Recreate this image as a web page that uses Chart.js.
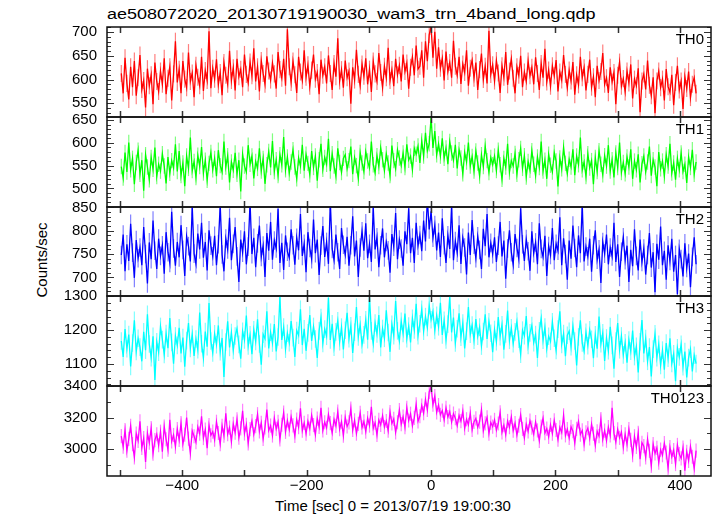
<!DOCTYPE html>
<html>
<head>
<meta charset="utf-8">
<script src="https://cdn.jsdelivr.net/npm/chart.js@4.4.1/dist/chart.umd.min.js"></script>
<style>
body { margin: 0; background: #fff; width: 717px; height: 516px; overflow: hidden; position: relative; font-family: "Liberation Sans", Arial, sans-serif; }
canvas { position: absolute; left: 0; }
.txt { position: absolute; font-size: 15px; line-height: 18px; color: #000; white-space: nowrap; }
#title { font-size: 18px; transform: scale(1, 0.86); transform-origin: left top; }
</style>
</head>
<body>
<div class="txt" id="title" style="left:107px;top:6px">ae508072020_20130719190030_wam3_trn_4band_long.qdp</div>
<div class="txt" style="left:275px;top:497px">Time [sec] 0 = 2013/07/19 19:00:30</div>
<div class="txt" style="left:42px;top:260px;transform:translate(-50%,-50%) rotate(-90deg)">Counts/sec</div>
<script>
// light curves, 3 s bins starting at t = -498 s (10 bins per row)
const t0 = -498;
const binSec = 3;

const th0 = [
  613, 571, 646, 592, 558, 627, 584, 639, 566, 604,
  652, 579, 598, 541, 623, 587, 610, 548, 636, 596,
  575, 618, 590, 645, 569, 603, 627, 556, 612, 681,
  594, 622, 571, 639, 601, 583, 657, 596, 614, 563,
  630, 605, 587, 648, 576, 619, 598, 702, 582, 624,
  601, 643, 589, 615, 567, 636, 609, 590, 661, 598,
  625, 577, 644, 606, 622, 584, 653, 611, 593, 637,
  608, 666, 596, 627, 575, 640, 613, 590, 649, 618,
  599, 635, 612, 581, 658, 621, 603, 644, 587, 706,
  627, 594, 639, 610, 572, 648, 616, 598, 662, 605,
  631, 586, 620, 653, 601, 615, 569, 642, 609, 627,
  592, 651, 613, 578, 634, 606, 687, 597, 621, 583,
  640, 604, 618, 549, 626, 599, 663, 611, 587, 633,
  607, 645, 590, 622, 574, 639, 612, 596, 656, 615,
  583, 628, 604, 667, 598, 621, 586, 644, 610, 630,
  596, 653, 617, 635, 581, 626, 648, 609, 672, 622,
  628, 662, 604, 681, 639, 695, 712, 646, 701, 623,
  668, 624, 645, 598, 659, 617, 636, 604, 682, 628,
  609, 648, 591, 633, 615, 662, 587, 624, 641, 603,
  636, 578, 621, 655, 600, 628, 592, 703, 611, 631,
  597, 640, 614, 572, 629, 605, 658, 589, 618, 644,
  603, 571, 627, 609, 650, 584, 616, 596, 639, 608,
  626, 590, 647, 613, 578, 634, 604, 665, 595, 620,
  586, 629, 608, 641, 575, 616, 599, 652, 611, 583,
  620, 597, 637, 568, 610, 589, 648, 604, 625, 577,
  611, 642, 584, 606, 563, 629, 598, 617, 656, 590,
  604, 572, 626, 595, 615, 548, 609, 637, 586, 602,
  574, 618, 593, 632, 560, 601, 587, 624, 531, 597,
  612, 579, 640, 588, 566, 605, 529, 597, 618, 583,
  601, 556, 622, 585, 573, 610, 546, 594, 629, 578,
  597, 538, 606, 581, 617, 562, 590, 604, 571
];
const th1 = [
  548, 523, 579, 536, 601, 541, 566, 509, 557, 584,
  531, 562, 495, 574, 547, 519, 568, 542, 590, 526,
  553, 538, 576, 549, 511, 569, 533, 561, 545, 597,
  537, 582, 528, 556, 505, 571, 544, 612, 539, 559,
  524, 573, 548, 591, 534, 562, 518, 555, 579, 541,
  566, 527, 584, 550, 536, 603, 547, 572, 513, 558,
  540, 578, 531, 562, 493, 575, 549, 536, 595, 553,
  571, 522, 559, 544, 588, 538, 566, 510, 552, 581,
  546, 604, 537, 563, 528, 574, 552, 613, 541, 569,
  533, 558, 585, 547, 521, 567, 549, 596, 539, 575,
  555, 530, 582, 546, 571, 517, 563, 598, 542, 568,
  553, 609, 538, 576, 549, 527, 588, 557, 535, 566,
  574, 543, 561, 592, 531, 568, 550, 522, 579, 556,
  537, 581, 560, 545, 603, 552, 534, 572, 548, 589,
  563, 539, 576, 556, 528, 594, 561, 543, 585, 567,
  550, 578, 546, 597, 562, 571, 541, 588, 575, 593,
  556, 604, 571, 622, 583, 598, 657, 589, 626, 574,
  598, 571, 610, 566, 589, 553, 603, 578, 562, 596,
  544, 585, 567, 532, 579, 558, 601, 549, 570, 538,
  582, 556, 527, 574, 548, 593, 561, 535, 568, 552,
  571, 539, 584, 552, 520, 566, 547, 598, 536, 561,
  549, 577, 531, 563, 588, 544, 572, 525, 559, 540,
  583, 553, 528, 569, 546, 603, 538, 562, 521, 575,
  551, 536, 579, 560, 504, 567, 543, 590, 555, 532,
  564, 547, 586, 529, 571, 552, 612, 541, 558, 526,
  576, 545, 561, 509, 568, 537, 583, 553, 530, 572,
  549, 595, 538, 563, 524, 578, 546, 601, 535, 557,
  532, 569, 547, 586, 521, 560, 541, 575, 513, 554,
  571, 536, 558, 592, 528, 563, 547, 505, 580, 543,
  560, 527, 574, 549, 598, 534, 556, 519, 566, 541,
  578, 537, 553, 512, 569, 546, 585, 531, 558
];
const th2 = [
  748, 792, 713, 771, 735, 815, 753, 699, 780, 741,
  764, 726, 808, 750, 687, 775, 739, 822, 757, 718,
  783, 746, 769, 708, 797, 754, 731, 841, 762, 725,
  776, 743, 812, 759, 703, 788, 767, 734, 853, 751,
  729, 794, 760, 817, 742, 776, 715, 801, 768, 745,
  789, 726, 771, 856, 749, 713, 783, 760, 828, 737,
  772, 808, 745, 690, 781, 753, 799, 728, 766, 861,
  750, 785, 722, 773, 811, 744, 768, 701, 795, 757,
  819, 738, 779, 762, 847, 731, 774, 716, 790, 755,
  742, 803, 769, 727, 785, 758, 836, 746, 772, 711,
  797, 763, 739, 824, 752, 781, 705, 768, 810, 744,
  776, 729, 863, 761, 737, 792, 754, 718, 806, 770,
  748, 787, 725, 769, 831, 745, 779, 701, 764, 799,
  757, 816, 741, 772, 733, 851, 760, 786, 722, 769,
  805, 743, 776, 758, 710, 793, 766, 838, 739, 781,
  762, 725, 799, 771, 848, 752, 785, 731, 817, 768,
  791, 756, 822, 777, 869, 803, 842, 785, 812, 758,
  796, 744, 827, 769, 731, 790, 761, 855, 737, 778,
  753, 812, 729, 785, 764, 706, 796, 748, 823, 770,
  741, 788, 759, 718, 804, 767, 836, 743, 774, 750,
  786, 733, 768, 819, 745, 779, 697, 762, 801, 754,
  727, 793, 763, 740, 848, 771, 735, 782, 756, 714,
  799, 752, 775, 728, 816, 761, 744, 789, 703, 767,
  748, 806, 737, 772, 757, 829, 726, 784, 750, 695,
  779, 740, 811, 763, 722, 790, 752, 857, 734, 766,
  745, 783, 712, 769, 801, 738, 760, 688, 776, 751,
  792, 728, 764, 745, 817, 733, 771, 701, 755, 786,
  737, 768, 690, 759, 724, 803, 746, 715, 781, 733,
  762, 706, 748, 795, 721, 754, 668, 772, 738, 809,
  726, 757, 695, 769, 735, 783, 712, 748, 664, 761,
  739, 702, 773, 720, 751, 679, 744, 786, 728
];
const th3 = [
  1168, 1121, 1203, 1145, 1187, 1093, 1162, 1229, 1137, 1176,
  1150, 1108, 1195, 1141, 1247, 1159, 1119, 1182, 1053, 1166,
  1135, 1211, 1172, 1128, 1190, 1147, 1236, 1164, 1101, 1183,
  1155, 1207, 1131, 1178, 1092, 1169, 1221, 1146, 1188, 1124,
  1174, 1142, 1252, 1160, 1118, 1196, 1151, 1280, 1168, 1133,
  1189, 1157, 1214, 1136, 1177, 1062, 1165, 1226, 1149, 1193,
  1140, 1183, 1205, 1158, 1116, 1197, 1171, 1243, 1153, 1186,
  1129, 1201, 1167, 1232, 1159, 1098, 1188, 1175, 1256, 1146,
  1194, 1162, 1218, 1137, 1180, 1298, 1171, 1209, 1144, 1191,
  1163, 1227, 1178, 1121, 1199, 1185, 1262, 1156, 1204, 1139,
  1192, 1245, 1168, 1211, 1174, 1118, 1198, 1237, 1161, 1203,
  1182, 1296, 1171, 1219, 1150, 1195, 1228, 1166, 1209, 1143,
  1200, 1251, 1175, 1213, 1133, 1194, 1268, 1180, 1216, 1157,
  1186, 1231, 1172, 1297, 1198, 1160, 1221, 1189, 1245, 1149,
  1205, 1176, 1259, 1193, 1136, 1217, 1184, 1286, 1198, 1168,
  1226, 1190, 1249, 1175, 1212, 1164, 1235, 1201, 1278, 1184,
  1219, 1262, 1197, 1240, 1208, 1273, 1231, 1255, 1199, 1244,
  1210, 1281, 1186, 1229, 1171, 1218, 1299, 1193, 1237, 1162,
  1204, 1250, 1179, 1221, 1146, 1197, 1268, 1188, 1215, 1170,
  1233, 1182, 1209, 1153, 1196, 1247, 1174, 1225, 1191, 1135,
  1202, 1166, 1239, 1181, 1216, 1142, 1189, 1258, 1170, 1207,
  1160, 1195, 1226, 1173, 1129, 1200, 1184, 1242, 1155, 1192,
  1214, 1163, 1187, 1118, 1198, 1235, 1170, 1209, 1145, 1182,
  1167, 1225, 1176, 1140, 1203, 1256, 1158, 1190, 1123, 1185,
  1197, 1151, 1212, 1168, 1096, 1180, 1229, 1162, 1138, 1194,
  1154, 1201, 1173, 1117, 1186, 1145, 1240, 1160, 1192, 1109,
  1177, 1139, 1210, 1155, 1086, 1168, 1221, 1142, 1183, 1127,
  1163, 1104, 1171, 1138, 1199, 1122, 1152, 1075, 1166, 1230,
  1131, 1175, 1108, 1150, 1063, 1144, 1189, 1119, 1158, 1096,
  1141, 1083, 1162, 1117, 1176, 1102, 1130, 1049, 1148, 1121,
  1158, 1092, 1137, 1060, 1119, 1144, 1078, 1126, 1101
];
const th0123 = [
  3082, 3015, 3121, 2989, 3064, 3147, 3031, 2947, 3098, 3052,
  3176, 3008, 3069, 2918, 3102, 3041, 3133, 2971, 3057, 3094,
  3024, 3110, 2983, 3143, 3062, 2996, 3186, 3048, 3089, 3015,
  3127, 3058, 3164, 3032, 3091, 3199, 3066, 2974, 3115, 3081,
  3043, 3141, 3098, 3208, 3070, 3123, 3006, 3152, 3087, 3110,
  3059, 3173, 3102, 3031, 3148, 3085, 3227, 3094, 3136, 3048,
  3160, 3104, 3189, 3072, 3131, 3242, 3099, 3154, 3036, 3126,
  3178, 3093, 3145, 3221, 3112, 3167, 3065, 3138, 3250, 3117,
  3149, 3086, 3196, 3128, 3173, 3061, 3154, 3232, 3109, 3181,
  3124, 3205, 3150, 3083, 3187, 3139, 3258, 3117, 3166, 3098,
  3176, 3129, 3214, 3152, 3091, 3193, 3141, 3262, 3118, 3170,
  3135, 3219, 3164, 3102, 3188, 3147, 3237, 3126, 3174, 3085,
  3201, 3143, 3169, 3256, 3121, 3182, 3098, 3160, 3229, 3137,
  3175, 3110, 3196, 3149, 3268, 3132, 3167, 3089, 3185, 3153,
  3212, 3140, 3178, 3116, 3235, 3163, 3191, 3105, 3170, 3247,
  3158, 3206, 3139, 3262, 3181, 3224, 3147, 3198, 3283, 3176,
  3208, 3276, 3227, 3315, 3249, 3362, 3398, 3281, 3336, 3232,
  3279, 3217, 3244, 3186, 3262, 3203, 3238, 3171, 3225, 3196,
  3148, 3213, 3177, 3240, 3132, 3189, 3154, 3227, 3121, 3172,
  3195, 3138, 3174, 3249, 3116, 3163, 3201, 3098, 3168, 3142,
  3185, 3120, 3162, 3233, 3106, 3151, 3092, 3178, 3139, 3204,
  3117, 3165, 3089, 3148, 3216, 3128, 3071, 3157, 3112, 3180,
  3136, 3094, 3171, 3118, 3052, 3143, 3196, 3101, 3129, 3077,
  3153, 3098, 3182, 3121, 3060, 3137, 3105, 3214, 3087, 3126,
  3070, 3141, 3113, 3039, 3128, 3175, 3092, 3118, 3031, 3106,
  3133, 3068, 3159, 3097, 3024, 3112, 3082, 3190, 3061, 3117,
  3053, 3139, 3086, 3262, 3101, 3044, 3125, 3071, 3108, 3012,
  3094, 3029, 3127, 3058, 2962, 3081, 3013, 3103, 2935, 3040,
  3018, 2947, 3062, 2989, 2893, 3031, 2972, 3008, 2914, 2996,
  2961, 3037, 2978, 2880, 3012, 2950, 2994, 2905, 3026, 2968,
  2941, 3009, 2862, 2983, 2925, 3016, 2951, 2877, 2990
];

// typical 1-sigma error of a bin, per band (counts/sec)
const bandErr = [18, 17, 20, 26, 45];
const bandNames = ['TH0', 'TH1', 'TH2', 'TH3', 'TH0123'];
const xTickLabels = [-400, -200, 0, 200, 400];

Chart.defaults.font.family = '"Liberation Sans", Arial, sans-serif';
Chart.defaults.font.size = 15;
Chart.defaults.color = '#000';

// panel layout (pixels) and axis ranges
const panels = [
  { vals: th0,    color: '#ff0000', light: 'rgba(255,0,0,0.5)',   min: 521,  max: 711,  major: 50,  minor: 10,  top: 27,  h: 90 },
  { vals: th1,    color: '#00ff00', light: 'rgba(0,255,0,0.5)',   min: 459,  max: 657,  major: 50,  minor: 10,  top: 117, h: 90 },
  { vals: th2,    color: '#0000ff', light: 'rgba(0,0,255,0.5)',   min: 660,  max: 851,  major: 50,  minor: 10,  top: 207, h: 89 },
  { vals: th3,    color: '#00ffff', light: 'rgba(0,255,255,0.5)', min: 1035, max: 1301, major: 100, minor: 20,  top: 296, h: 90 },
  { vals: th0123, color: '#ff00ff', light: 'rgba(255,0,255,0.5)', min: 2829, max: 3400, major: 200, minor: 100, top: 386, h: 90 }
];

const PAD = 24;
const XAXIS_H = 28;

function seg(ctx, x1, y1, x2, y2) {
  ctx.beginPath();
  ctx.moveTo(x1, y1);
  ctx.lineTo(x2, y2);
  ctx.stroke();
}

// vertical error bars under the line
const errBars = {
  id: 'errBars',
  beforeDatasetsDraw(chart, args, opts) {
    const { ctx, chartArea: a, scales: { y } } = chart;
    const meta = chart.getDatasetMeta(0);
    const vals = chart.data.datasets[0].data;
    ctx.save();
    ctx.beginPath();
    ctx.rect(a.left, a.top, a.right - a.left, a.bottom - a.top);
    ctx.clip();
    ctx.strokeStyle = opts.color;
    ctx.lineWidth = 1.2;
    meta.data.forEach(function(pt, k) {
      const v = vals[k].y;
      seg(ctx, pt.x, y.getPixelForValue(v - opts.err), pt.x, y.getPixelForValue(v + opts.err));
    });
    ctx.restore();
  }
};

// qdp style frame: inward ticks on all four sides + band label
const qdpFrame = {
  id: 'qdpFrame',
  afterDatasetsDraw(chart, args, opts) {
    const { ctx, chartArea: a, scales: { x, y } } = chart;
    ctx.save();
    ctx.strokeStyle = '#333';
    ctx.lineWidth = 1;
    for (let v = Math.ceil(y.min / opts.minor) * opts.minor; v <= y.max; v += opts.minor) {
      const py = Math.round(y.getPixelForValue(v)) + 0.5;
      const len = (v % opts.major === 0) ? 7 : 4;
      seg(ctx, a.left, py, a.left + len, py);
      seg(ctx, a.right, py, a.right - len, py);
    }
    ctx.lineWidth = 1.5;
    for (let v = -500; v <= 400; v += 100) {
      const px = Math.round(x.getPixelForValue(v)) + 0.5;
      seg(ctx, px, a.top, px, a.top + 6);
      seg(ctx, px, a.bottom, px, a.bottom - 6);
    }
    ctx.strokeStyle = '#111';
    ctx.lineWidth = 1.5;
    ctx.strokeRect(a.left, a.top, a.right - a.left, a.bottom - a.top);
    ctx.fillStyle = '#000';
    ctx.font = '15px "Liberation Sans", Arial, sans-serif';
    ctx.textAlign = 'right';
    ctx.textBaseline = 'top';
    ctx.fillText(opts.label, a.right - 7, a.top + 5);
    ctx.restore();
  }
};

panels.forEach(function(p, i) {
  const last = i === panels.length - 1;
  const cv = document.createElement('canvas');
  cv.width = 717;
  cv.height = p.h + PAD + (last ? XAXIS_H : PAD);
  cv.style.top = (p.top - PAD) + 'px';
  document.body.appendChild(cv);

  const points = p.vals.map((v, k) => ({ x: t0 + k * binSec, y: v }));

  new Chart(cv.getContext('2d'), {
    type: 'line',
    data: {
      datasets: [{
        data: points,
        borderColor: p.color,
        borderWidth: 1.3,
        pointRadius: 0,
        tension: 0,
        fill: false
      }]
    },
    options: {
      responsive: false,
      animation: false,
      parsing: false,
      layout: { padding: { left: 0, right: 6, top: PAD, bottom: last ? 0 : PAD } },
      plugins: {
        legend: { display: false },
        tooltip: { enabled: false },
        errBars: { color: p.light, err: bandErr[i] },
        qdpFrame: { label: bandNames[i], major: p.major, minor: p.minor }
      },
      scales: {
        x: {
          type: 'linear',
          min: -521,
          max: 450,
          display: last,
          grid: { display: false, drawTicks: false },
          border: { display: false },
          ticks: {
            padding: 1,
            maxRotation: 0,
            autoSkip: false,
            callback: v => (v < 0 ? '\u2212' + Math.abs(v) : '' + v)
          },
          afterBuildTicks: s => { s.ticks = xTickLabels.map(v => ({ value: v })); },
          afterFit: s => { if (last) s.height = XAXIS_H; }
        },
        y: {
          min: p.min,
          max: p.max,
          grid: { display: false, drawTicks: false },
          border: { display: false },
          ticks: { padding: 10, autoSkip: false, callback: v => '' + v },
          afterBuildTicks: s => {
            const vals = [];
            for (let v = Math.ceil(p.min / p.major) * p.major; v <= p.max; v += p.major) vals.push({ value: v });
            s.ticks = vals;
          },
          afterFit: s => { s.width = 107; }
        }
      }
    },
    plugins: [errBars, qdpFrame]
  });
});
</script>
</body>
</html>
